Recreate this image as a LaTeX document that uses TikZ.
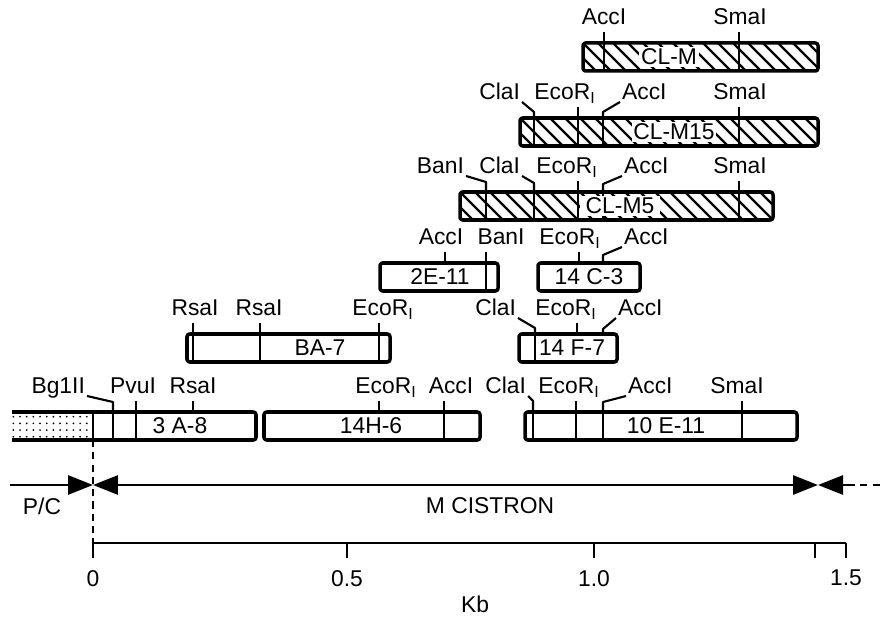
\documentclass[tikz,border=0pt]{standalone}
\usepackage{fontspec}
\setmainfont{Liberation Sans}
\usetikzlibrary{arrows.meta,patterns.meta}

\begin{document}
\begin{tikzpicture}[x=0.02cm,y=-0.02cm,line join=round,
    font=\fontsize{13}{15}\selectfont,
    >={Triangle[length=0.5cm,width=0.38cm]},
    clone/.style={draw,line width=2pt,rounded corners=1.5pt},
    hatched/.style={path picture={
        \foreach \k in {-2,...,27}
            \draw[line width=1.3pt] ([xshift=\k*0.3cm]path picture bounding box.north west) -- ++(0.6cm,-0.6cm);}},
    stipple/.style={pattern={Dots[radius=0.55pt,distance=3.8pt]}},
    cut/.style={line width=1.2pt},
    tick/.style={line width=1.2pt,shorten >=2.8pt},
    leader/.style={line width=1.2pt},
    enz/.style={inner sep=1pt,text depth=0pt,anchor=south},
    enzl/.style={enz,anchor=south east},
    enzr/.style={enz,anchor=south west},
    tag/.style={fill=white,inner sep=1pt},
    gene/.style={line width=1.6pt},
    axis/.style={line width=1.2pt}]

\useasboundingbox (0,0) rectangle (881,617);

% CL-M
\draw[clone,hatched] (583,43) rectangle (818,71);
\foreach \x in {604,739} \draw[cut] (\x,43) -- (\x,71);
\node[tag] (clm) at (669,57) {CL-M};
\coordinate (clm-acc) at (604,43);
\coordinate (clm-sma) at (739,43);
\node[enz] (l-clm-acc) at (604,27) {AccI};
\node[enz] (l-clm-sma) at (740,27) {SmaI};
\draw[tick] (clm-acc) -- (clm-acc |- l-clm-acc.south);
\draw[tick] (clm-sma) -- (clm-sma |- l-clm-sma.south);

% CL-M15
\draw[clone,hatched] (520,118) rectangle (818,146);
\foreach \x in {534,578,603,739} \draw[cut] (\x,118) -- (\x,146);
\node[tag] (clm15) at (674,132) {CL-M15};
\coordinate (m15-cla) at (534,118);
\coordinate (m15-eco) at (578,118);
\coordinate (m15-acc) at (603,118);
\coordinate (m15-sma) at (739,118);
\node[enzl] (l-m15-cla) at (522,102) {ClaI};
\node[enz] (l-m15-eco) at (565,102) {EcoR\textsubscript{I}};
\node[enzr] (l-m15-acc) at (620,102) {AccI};
\node[enz] (l-m15-sma) at (740,102) {SmaI};
\draw[leader] (m15-cla) -- ++(0,-6) -- (l-m15-cla.south east);
\draw[tick] (m15-eco) -- (m15-eco |- l-m15-eco.south);
\draw[leader] (m15-acc) -- ++(0,-6) -- (l-m15-acc.south west);
\draw[tick] (m15-sma) -- (m15-sma |- l-m15-sma.south);

% CL-M5
\draw[clone,hatched] (460,192) rectangle (773,220);
\foreach \x in {486,534,578,603,739} \draw[cut] (\x,192) -- (\x,220);
\node[tag,minimum width=1.6cm] (clm5) at (620,206) {CL-M5};
\coordinate (m5-ban) at (486,192);
\coordinate (m5-cla) at (534,192);
\coordinate (m5-eco) at (578,192);
\coordinate (m5-acc) at (603,192);
\coordinate (m5-sma) at (739,192);
\node[enzl] (l-m5-ban) at (466,176) {BanI};
\node[enzl] (l-m5-cla) at (522,176) {ClaI};
\node[enz] (l-m5-eco) at (567,176) {EcoR\textsubscript{I}};
\node[enzr] (l-m5-acc) at (622,176) {AccI};
\node[enz] (l-m5-sma) at (740,176) {SmaI};
\draw[leader] (m5-ban) -- ++(0,-10) -- (l-m5-ban.south east);
\draw[leader] (m5-cla) -- ++(0,-9) -- (l-m5-cla.south east);
\draw[tick] (m5-eco) -- (m5-eco |- l-m5-eco.south);
\draw[leader] (m5-acc) -- ++(0,-8) -- (l-m5-acc.south west);
\draw[tick] (m5-sma) -- (m5-sma |- l-m5-sma.south);

% 2E-11 and 14 C-3
\draw[clone] (380,263) rectangle (498,291);
\draw[cut] (486,263) -- (486,291);
\node (e11) at (440,277) {2E-11};
\coordinate (e11-acc) at (445,263);
\coordinate (e11-ban) at (486,263);
\node[enz] (l-e11-acc) at (441,247) {AccI};
\node[enz] (l-e11-ban) at (501,247) {BanI};
\draw[tick] (e11-acc) -- (e11-acc |- l-e11-acc.south);
\draw[tick] (e11-ban) -- (e11-ban |- l-e11-ban.south);

\draw[clone] (538,263) rectangle (640,291);
\node (c3) at (589,277) {14 C-3};
\coordinate (c3-eco) at (579,263);
\coordinate (c3-acc) at (603,263);
\node[enz] (l-c3-eco) at (570,247) {EcoR\textsubscript{I}};
\node[enzr] (l-c3-acc) at (622,247) {AccI};
\draw[tick] (c3-eco) -- (c3-eco |- l-c3-eco.south);
\draw[leader] (c3-acc) -- ++(0,-8) -- (l-c3-acc.south west);

% BA-7 and 14 F-7
\draw[clone] (187,334) rectangle (390,362);
\foreach \x in {193,260,379} \draw[cut] (\x,334) -- (\x,362);
\node (ba7) at (320,348) {BA-7};
\coordinate (ba-rsa1) at (193,334);
\coordinate (ba-rsa2) at (260,334);
\coordinate (ba-eco) at (379,334);
\node[enz] (l-ba-rsa1) at (195,318) {RsaI};
\node[enz] (l-ba-rsa2) at (259,318) {RsaI};
\node[enz] (l-ba-eco) at (383,318) {EcoR\textsubscript{I}};
\draw[tick] (ba-rsa1) -- (ba-rsa1 |- l-ba-rsa1.south);
\draw[tick] (ba-rsa2) -- (ba-rsa2 |- l-ba-rsa2.south);
\draw[tick] (ba-eco) -- (ba-eco |- l-ba-eco.south);

\draw[clone] (519,334) rectangle (617,362);
\draw[cut] (535,334) -- (535,362);
\node (f7) at (572,348) {14 F-7};
\coordinate (f7-cla) at (535,334);
\coordinate (f7-eco) at (577,334);
\coordinate (f7-acc) at (603,334);
\node[enzl] (l-f7-cla) at (518,318) {ClaI};
\node[enz] (l-f7-eco) at (566,318) {EcoR\textsubscript{I}};
\node[enzr] (l-f7-acc) at (616,318) {AccI};
\draw[leader] (f7-cla) -- ++(0,-6) -- (l-f7-cla.south east);
\draw[tick] (f7-eco) -- (f7-eco |- l-f7-eco.south);
\draw[leader] (f7-acc) -- ++(0,-5) -- (l-f7-acc.south west);

% 3 A-8, 14H-6 and 10 E-11
\fill[stipple] (12,412) rectangle (93,440);
\draw[clone] (12,412) -- (256,412) -- (256,440) -- (12,440);
\foreach \x in {93,113,136} \draw[cut] (\x,412) -- (\x,440);
\node (a8) at (180,426) {3 A-8};
\coordinate (a8-bgl) at (113,412);
\coordinate (a8-pvu) at (136,412);
\coordinate (a8-rsa) at (193,412);
\coordinate (a8-foot) at (93,440);
\node[enzl] (l-a8-bgl) at (87,396) {Bg1II};
\node[enz] (l-a8-pvu) at (133,396) {PvuI};
\node[enz] (l-a8-rsa) at (193,396) {RsaI};
\draw[leader] (a8-bgl) -- ++(0,-10) -- (l-a8-bgl.south east);
\draw[tick] (a8-pvu) -- (a8-pvu |- l-a8-pvu.south);
\draw[tick] (a8-rsa) -- (a8-rsa |- l-a8-rsa.south);

\draw[clone] (264,412) rectangle (480,440);
\draw[cut] (444,412) -- (444,440);
\node (h6) at (371,426) {14H-6};
\coordinate (h6-eco) at (379,412);
\coordinate (h6-acc) at (444,412);
\node[enz] (l-h6-eco) at (386,396) {EcoR\textsubscript{I}};
\node[enz] (l-h6-acc) at (451,396) {AccI};
\draw[tick] (h6-eco) -- (h6-eco |- l-h6-eco.south);
\draw[tick] (h6-acc) -- (h6-acc |- l-h6-acc.south);

\draw[clone] (525,412) rectangle (797,440);
\foreach \x in {533,576,603,742} \draw[cut] (\x,412) -- (\x,440);
\node (e10) at (666,426) {10 E-11};
\coordinate (e10-cla) at (533,412);
\coordinate (e10-eco) at (576,412);
\coordinate (e10-acc) at (603,412);
\coordinate (e10-sma) at (742,412);
\node[enzl] (l-e10-cla) at (528,396) {ClaI};
\node[enz] (l-e10-eco) at (569,396) {EcoR\textsubscript{I}};
\node[enzr] (l-e10-acc) at (626,396) {AccI};
\node[enz] (l-e10-sma) at (737,396) {SmaI};
\draw[leader] (e10-cla) -- ++(0,-11) -- (l-e10-cla.south east);
\draw[tick] (e10-eco) -- (e10-eco |- l-e10-eco.south);
\draw[leader] (e10-acc) -- ++(0,-10) -- (l-e10-acc.south west);
\draw[tick] (e10-sma) -- (e10-sma |- l-e10-sma.south);

% cistron arrows
\coordinate (pc) at (10,485);
\coordinate (start) at (93,485);
\coordinate (stop) at (818,485);
\coordinate (next) at (848,485);
\coordinate (edge) at (881,485);
\draw[gene,->] (pc) -- (start);
\draw[gene,<->] (start) -- (stop);
\draw[gene,<-] (stop) -- (next);
\draw[gene,dash pattern=on 4pt off 3pt] (next) -- (edge);
\node (pc-lab) at (42,506) {P/C};
\node (mcis) at (490,506) {M CISTRON};

% scale
\coordinate (zero) at (93,543);
\coordinate (axis-end) at (846,543);
\draw[axis,dash pattern=on 4pt off 3pt] (a8-foot) -- (zero);
\draw[axis] (zero) -- (axis-end);
\foreach \x/\t [count=\i] in {93/0,347/0.5,594/1.0,846/1.5}
    \draw[axis] (\x,543) -- (\x,558) node[below=3pt] (num\i) {\t};
\draw[axis] (815,543) -- (815,558);
\node[inner sep=1pt] (kb) at (475,604) {Kb};
\end{tikzpicture}
\end{document}
